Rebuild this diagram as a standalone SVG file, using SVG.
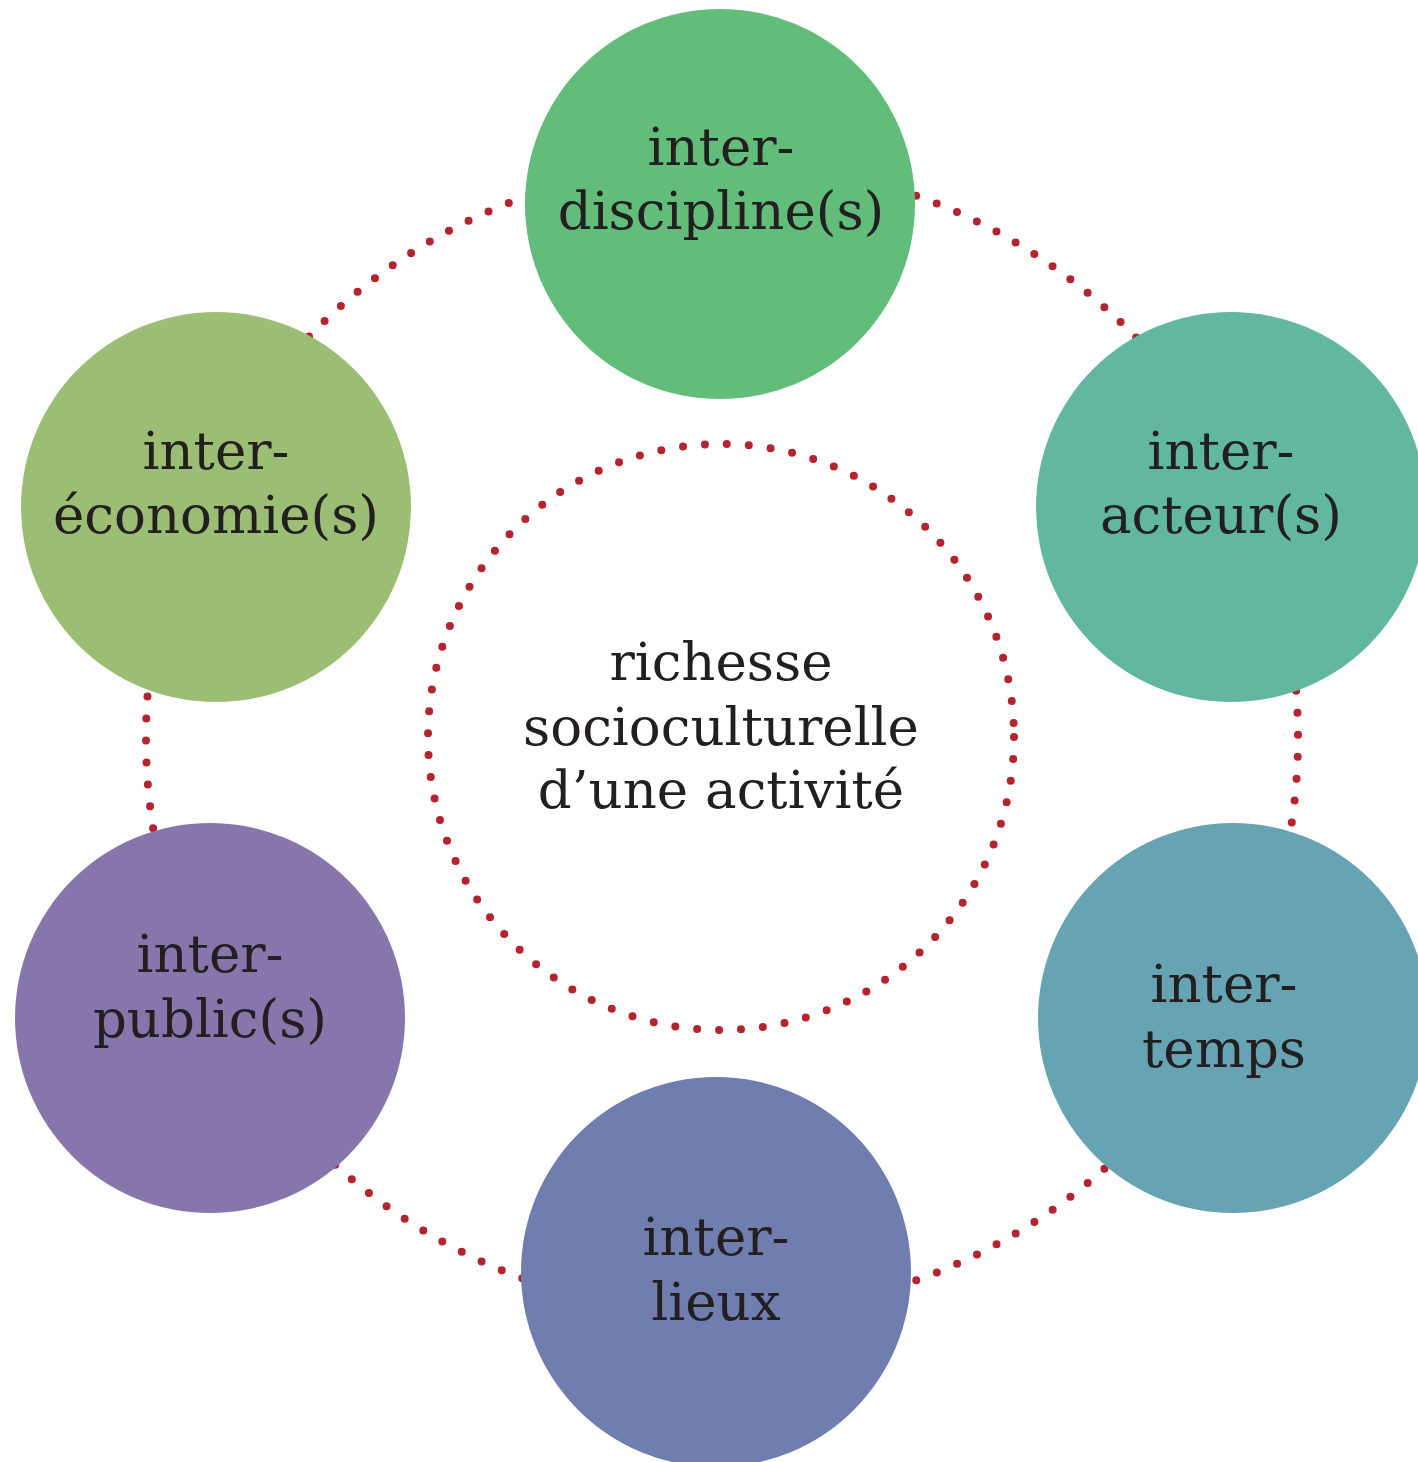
<svg xmlns="http://www.w3.org/2000/svg" width="1418" height="1462" viewBox="0 0 1418 1462">
  <style>
    .dots { fill: none; stroke: #B5232E; stroke-width: 8; stroke-linecap: round; stroke-dasharray: 0 22; }
    .lbl { font-family: "DejaVu Serif", "Liberation Serif", serif; font-size: 53px; fill: #231F20; text-anchor: middle; }
  </style>
  <rect width="1418" height="1462" fill="#FFFFFF"/>
  <g id="connectors">
    <path class="dots" d="M722,162 A576,576 0 0 1 1246.6,500"/>
    <path class="dots" d="M1246.6,500 A576,576 0 0 1 1227.2,1014.6"/>
    <path class="dots" d="M1227.2,1014.6 A576,576 0 0 1 716,1314"/>
    <path class="dots" d="M716,1314 A576,576 0 0 1 216.8,1014.6"/>
    <path class="dots" d="M216.8,1014.6 A576,576 0 0 1 197.8,499.1"/>
    <path class="dots" d="M197.8,499.1 A576,576 0 0 1 722,162"/>
  </g>
  <g id="center">
    <circle class="dots" cx="721" cy="737" r="293" stroke-dasharray="0 23.3"/>
    <text class="lbl" x="721" y="680">richesse</text>
    <text class="lbl" x="721" y="745">socioculturelle</text>
    <text class="lbl" x="721" y="808">d’une activité</text>
  </g>
  <g id="node-discipline">
    <circle cx="720" cy="204" r="195" fill="#62BD7A"/>
    <text class="lbl" x="721" y="165">inter-</text>
    <text class="lbl" x="721" y="229">discipline(s)</text>
  </g>
  <g id="node-acteur">
    <circle cx="1231" cy="507" r="195" fill="#62B7A0"/>
    <text class="lbl" x="1221" y="469">inter-</text>
    <text class="lbl" x="1221" y="533">acteur(s)</text>
  </g>
  <g id="node-temps">
    <circle cx="1233" cy="1018" r="195" fill="#66A4B3"/>
    <text class="lbl" x="1224" y="1002">inter-</text>
    <text class="lbl" x="1224" y="1067">temps</text>
  </g>
  <g id="node-lieux">
    <circle cx="716" cy="1272" r="195" fill="#6F7DAF"/>
    <text class="lbl" x="716" y="1255">inter-</text>
    <text class="lbl" x="716" y="1320">lieux</text>
  </g>
  <g id="node-public">
    <circle cx="210" cy="1018" r="195" fill="#8776AB"/>
    <text class="lbl" x="210" y="972">inter-</text>
    <text class="lbl" x="210" y="1037">public(s)</text>
  </g>
  <g id="node-economie">
    <circle cx="216" cy="507" r="195" fill="#9BBD74"/>
    <text class="lbl" x="216" y="469">inter-</text>
    <text class="lbl" x="216" y="533">économie(s)</text>
  </g>
</svg>
